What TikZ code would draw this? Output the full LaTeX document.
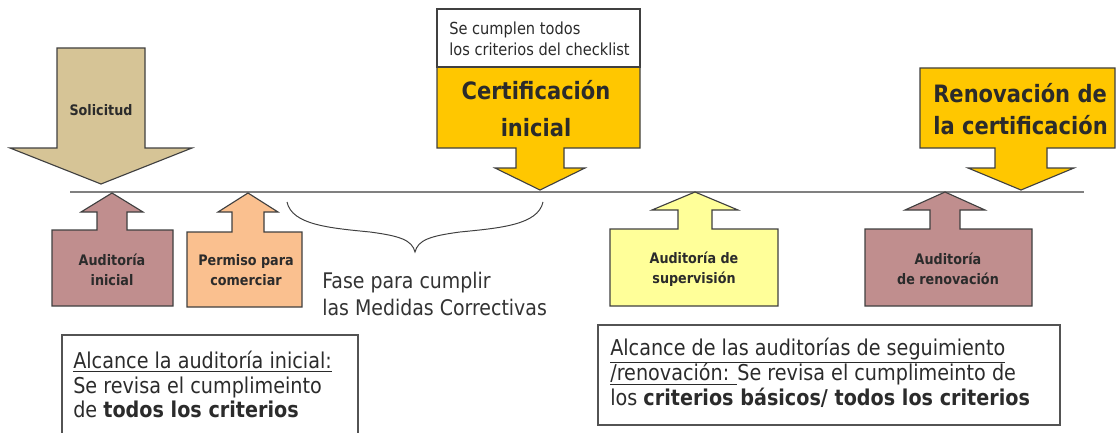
\documentclass[tikz,border=0pt]{standalone}
\usepackage{fontspec}
\setmainfont[FakeStretch=0.88]{DejaVu Sans}
\definecolor{soltan}{HTML}{D6C496}
\definecolor{audmauve}{HTML}{C08E8E}
\definecolor{permpeach}{HTML}{FAC08F}
\definecolor{suplight}{HTML}{FFFF99}
\definecolor{certyellow}{HTML}{FFC700}
\definecolor{edgegray}{HTML}{404040}
\definecolor{axisgray}{HTML}{808080}
\definecolor{textgray}{HTML}{2B2B2B}

\begin{document}
\begin{tikzpicture}[x=0.025cm, y=-0.025cm,
    callout/.style={draw=edgegray, line width=0.8pt},
    notebox/.style={draw=edgegray!90, line width=0.9pt},
    lbl/.style={font=\fontsize{10.3}{14}\selectfont\bfseries, align=center, text=textgray, inner sep=0},
    big/.style={text=textgray, inner sep=0},
    note/.style={font=\fontsize{15.5}{17.2}\selectfont, align=left, text=textgray, inner sep=0},
]
    \useasboundingbox (0,0) rectangle (1118,433);

    % time line
    \coordinate (t0) at (70,192);
    \coordinate (t1) at (1084,192);
    \draw[axisgray, line width=1.4pt] (t0) -- (t1);

    % arrows from above
    \draw[callout, fill=soltan] (57,48) -- (145,48) -- (145,148) -- (192,148) -- (101,184) -- (10,148) -- (57,148) -- cycle;
    \draw[callout, fill=certyellow] (437,67) -- (640,67) -- (640,148) -- (564,148) -- (564,168) -- (585,168)
        -- (540,190) -- (495,168) -- (516,168) -- (516,148) -- (437,148) -- cycle;
    \draw[callout, fill=white] (437,9) rectangle (640,67);
    \draw[callout, fill=certyellow] (920,68) -- (1115,68) -- (1115,148) -- (1047,148) -- (1047,168) -- (1074,168)
        -- (1021,190) -- (968,168) -- (995,168) -- (995,148) -- (920,148) -- cycle;

    % arrows from below
    \draw[callout, fill=audmauve] (52,306) -- (52,230) -- (97,230) -- (97,212) -- (81,212) -- (112,193)
        -- (143,212) -- (127,212) -- (127,230) -- (173,230) -- (173,306) -- cycle;
    \draw[callout, fill=permpeach] (187,307) -- (187,232) -- (232,232) -- (232,212) -- (218,212) -- (248,193)
        -- (278,212) -- (264,212) -- (264,232) -- (302,232) -- (302,307) -- cycle;
    \draw[callout, fill=suplight] (610,306) -- (610,229) -- (678,229) -- (678,210) -- (652,210) -- (695,192)
        -- (738,210) -- (712,210) -- (712,229) -- (778,229) -- (778,306) -- cycle;
    \draw[callout, fill=audmauve] (865,306) -- (865,229) -- (930,229) -- (930,210) -- (905,210) -- (945,192)
        -- (985,210) -- (960,210) -- (960,229) -- (1032,229) -- (1032,306) -- cycle;

    % brace
    \draw[edgegray, line width=0.7pt] (287,202) .. controls (292,225) and (330,228) .. (370,232)
        .. controls (400,236) and (412,240) .. (415,252)
        .. controls (418,240) and (430,236) .. (460,232)
        .. controls (500,228) and (538,225) .. (543,202);

    \node[lbl] (solicitud) at (101,110) {Solicitud};
    \node[lbl] (audini) at (112,270) {Auditoría\\inicial};
    \node[lbl] (permiso) at (246,270) {Permiso para\\comerciar};
    \node[lbl] (audsup) at (694,269) {Auditoría de\\supervisión};
    \node[lbl] (audren) at (948,269) {Auditoría\\de renovación};

    \node[big, anchor=west, align=left, font=\fontsize{11.8}{15}\selectfont] (cumplen) at (449,38.5) {Se cumplen todos\\los criterios del checklist};
    \node[big, align=center, font=\fontsize{17}{26}\selectfont\bfseries] (certini) at (536,108.5) {Certificación\\inicial};
    \node[big, anchor=west, align=left, font=\fontsize{17}{22.8}\selectfont\bfseries] (renov) at (933,109) {Renovación de\\la certificación};
    \node[big, anchor=west, align=left, font=\fontsize{15.3}{19.2}\selectfont, text=black!80] (fase) at (322,293.5) {Fase para cumplir\\las Medidas Correctivas};

    % scope boxes
    \draw[notebox] (62,335) rectangle (358,445);
    \node[note, anchor=west] (alcini) at (73,384.5) {\underline{Alcance la auditoría inicial:}\\Se revisa el cumplimeinto\\de \textbf{todos los criterios}};
    \draw[notebox] (598,325) rectangle (1060,425);
    \node[note, anchor=west, font=\fontsize{15.5}{17.8}\selectfont] (alcseg) at (610,373) {\underline{Alcance de las auditorías de seguimiento}\\\underline{/renovación: }Se revisa el cumplimeinto de\\los \textbf{criterios básicos/ todos los criterios}};
\end{tikzpicture}
\end{document}
